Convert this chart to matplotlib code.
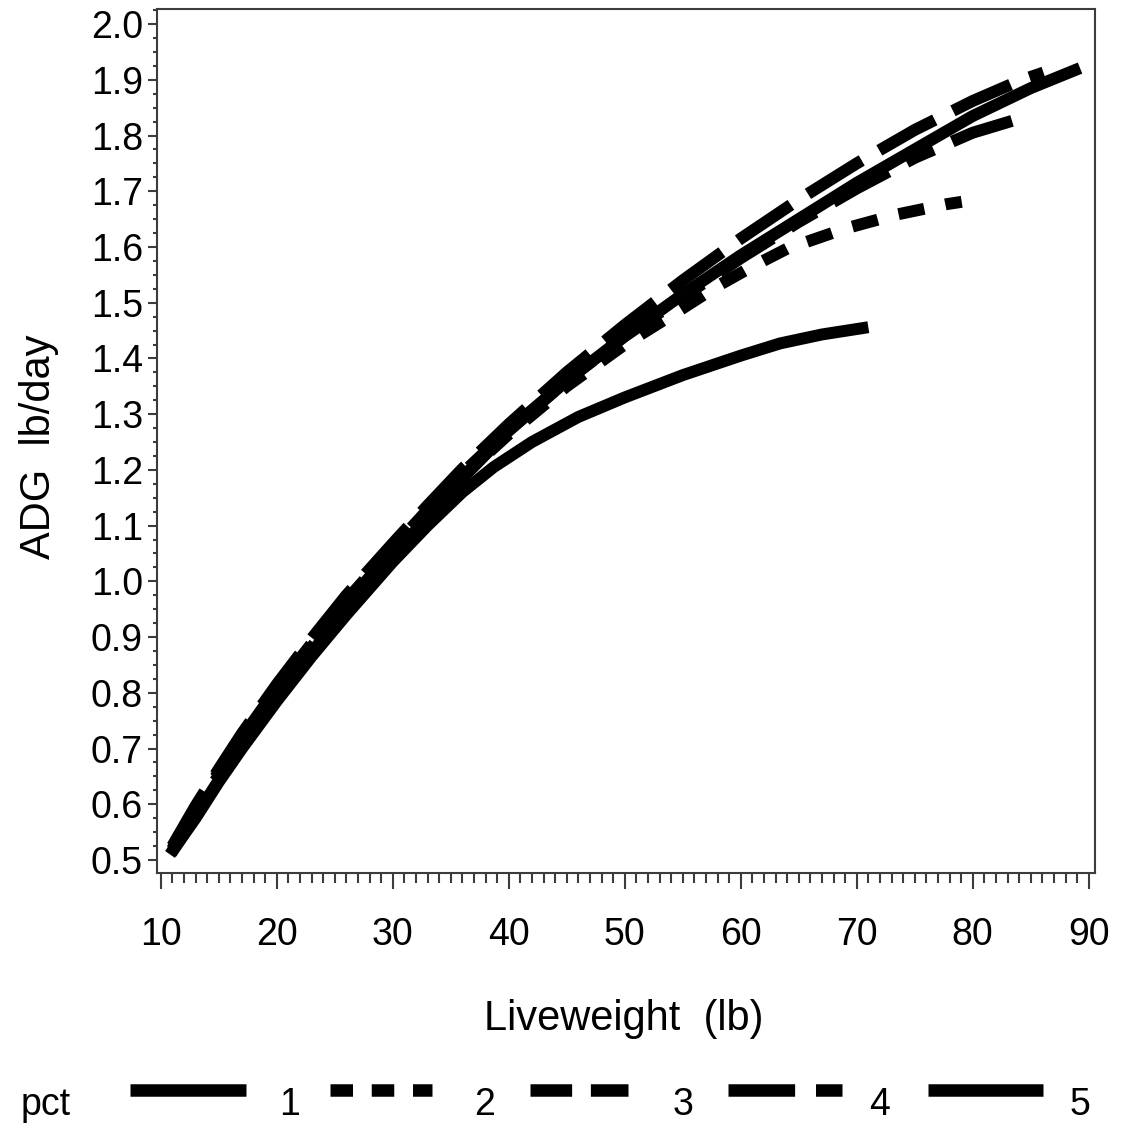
import matplotlib
matplotlib.use("Agg")
import matplotlib.pyplot as plt
from matplotlib.lines import Line2D
from matplotlib.ticker import MultipleLocator, FormatStrFormatter

plt.rcParams['font.family'] = ['Liberation Sans', 'DejaVu Sans']

# ---- data ----
pct1_x = [10.8, 13, 15, 17, 20, 23, 26, 30, 33, 36, 38.7, 42, 46, 50, 55, 60, 63.4, 67, 71]
pct1_y = [0.51, 0.575, 0.64, 0.70, 0.785, 0.865, 0.94, 1.035, 1.10, 1.16, 1.205, 1.25, 1.295,
          1.33, 1.37, 1.405, 1.427, 1.443, 1.456]

pct2_x = [11, 13, 15, 17, 20, 23, 26, 30, 33, 36, 40, 45, 50, 55, 58, 61, 64, 69, 73.4, 77.8, 79.05]
pct2_y = [0.518, 0.587, 0.652, 0.715, 0.802, 0.882, 0.96, 1.055, 1.122, 1.188, 1.264, 1.35, 1.425,
          1.49, 1.53, 1.565, 1.597, 1.633, 1.658, 1.677, 1.681]

pct3_x = [11, 13, 15, 17, 20, 23, 26, 30, 33, 36, 40, 45, 50, 55, 60, 65, 70, 75, 80, 84, 86.1]
pct3_y = [0.525, 0.597, 0.663, 0.727, 0.815, 0.897, 0.975, 1.068, 1.136, 1.202, 1.282, 1.375, 1.46,
          1.54, 1.615, 1.685, 1.75, 1.81, 1.862, 1.898, 1.913]

pct4_x = [11, 13, 15, 17, 20, 23, 26, 30, 33, 36, 40, 45, 50, 55, 60, 65, 70, 75, 80, 84.3]
pct4_y = [0.52, 0.592, 0.658, 0.72, 0.808, 0.888, 0.966, 1.06, 1.128, 1.194, 1.272, 1.36, 1.44,
          1.51, 1.58, 1.645, 1.705, 1.76, 1.805, 1.832]

pct5_x = [10.9, 13, 15, 17, 20, 23, 26, 30, 33, 36, 40, 45, 50, 55, 60, 65, 70, 75, 80, 85, 89.25]
pct5_y = [0.512, 0.578, 0.643, 0.703, 0.79, 0.872, 0.95, 1.045, 1.115, 1.185, 1.27, 1.36, 1.44,
          1.515, 1.585, 1.65, 1.715, 1.775, 1.835, 1.885, 1.921]

legend_labels = ["1", "2", "3", "4", "5"]
x_ticks = [10, 20, 30, 40, 50, 60, 70, 80, 90]

# ---- styles ----
W = H = 1124
DPI = 100
LW = 8.6
curve_dash = [None, (1.2, (2.2, 1.8)), (0, (5.3, 1.7)), (0, (5.3, 1.7, 2.5, 1.7)), None]
legend_dash = [None, (0, (1.8, 1.5)), (0, (3.33, 1.5)), (0, (5.33, 1.67, 2.5, 1.67)), None]

fig = plt.figure(figsize=(W / DPI, H / DPI), dpi=DPI)
ax = fig.add_axes([157 / W, 1 - 873 / H, (1095 - 157) / W, (873 - 9) / H])

series = [(pct1_x, pct1_y), (pct2_x, pct2_y), (pct3_x, pct3_y), (pct4_x, pct4_y), (pct5_x, pct5_y)]
for (xs, ys), ds in zip(series, curve_dash):
    kw = dict(color='black', lw=LW, solid_capstyle='butt', dash_capstyle='butt',
              solid_joinstyle='round')
    if ds is not None:
        kw['linestyle'] = ds
    ax.plot(xs, ys, **kw)

ax.set_xlim(9.68, 90.54)
ax.set_ylim(0.4767, 2.027)
ax.set_xticks(x_ticks)
ax.xaxis.set_minor_locator(MultipleLocator(1))
ax.set_yticks([0.5 + 0.1 * i for i in range(16)])
ax.yaxis.set_minor_locator(MultipleLocator(0.025))
ax.yaxis.set_major_formatter(FormatStrFormatter('%.1f'))

spine_c = '#3c3c3c'
for s in ax.spines.values():
    s.set_color(spine_c)
    s.set_linewidth(1.5)
ax.tick_params(axis='x', which='major', length=11.5, width=1.5, color=spine_c,
               labelsize=27, pad=20.5, direction='out')
ax.tick_params(axis='x', which='minor', length=7.2, width=1.5, color=spine_c, direction='out')
ax.tick_params(axis='y', which='major', length=6.5, width=1.5, color=spine_c,
               labelsize=27, pad=3.6, direction='out')
ax.tick_params(axis='y', which='minor', length=3.2, width=1.5, color=spine_c, direction='out')

# axis labels
fig.text(39 / W, 1 - 447 / H, "ADG  lb/day", rotation=90, ha='center', va='center', fontsize=30)
fig.text(624 / W, 1 - 1030 / H, "Liveweight  (lb)", ha='center', va='baseline', fontsize=30)

# legend (manual, figure pixel coords)
fig.text(20.5 / W, 1 - 1115 / H, "pct", ha='left', va='baseline', fontsize=27)
handle_spans = [(130, 246), (330, 432), (530, 628), (728, 842), (928, 1043)]
label_centers = [290, 485, 683, 880, 1080]
ly = 1 - 1090 / H
for (x0, x1), ds, lab, lc in zip(handle_spans, legend_dash, legend_labels, label_centers):
    kw = dict(color='black', lw=LW + 0.4, solid_capstyle='butt', dash_capstyle='butt',
              transform=fig.transFigure)
    if ds is not None:
        kw['linestyle'] = ds
    fig.add_artist(Line2D([x0 / W, x1 / W], [ly, ly], **kw))
    fig.text(lc / W, 1 - 1115 / H, lab, ha='center', va='baseline', fontsize=27)

fig.savefig("out.png", dpi=DPI)
